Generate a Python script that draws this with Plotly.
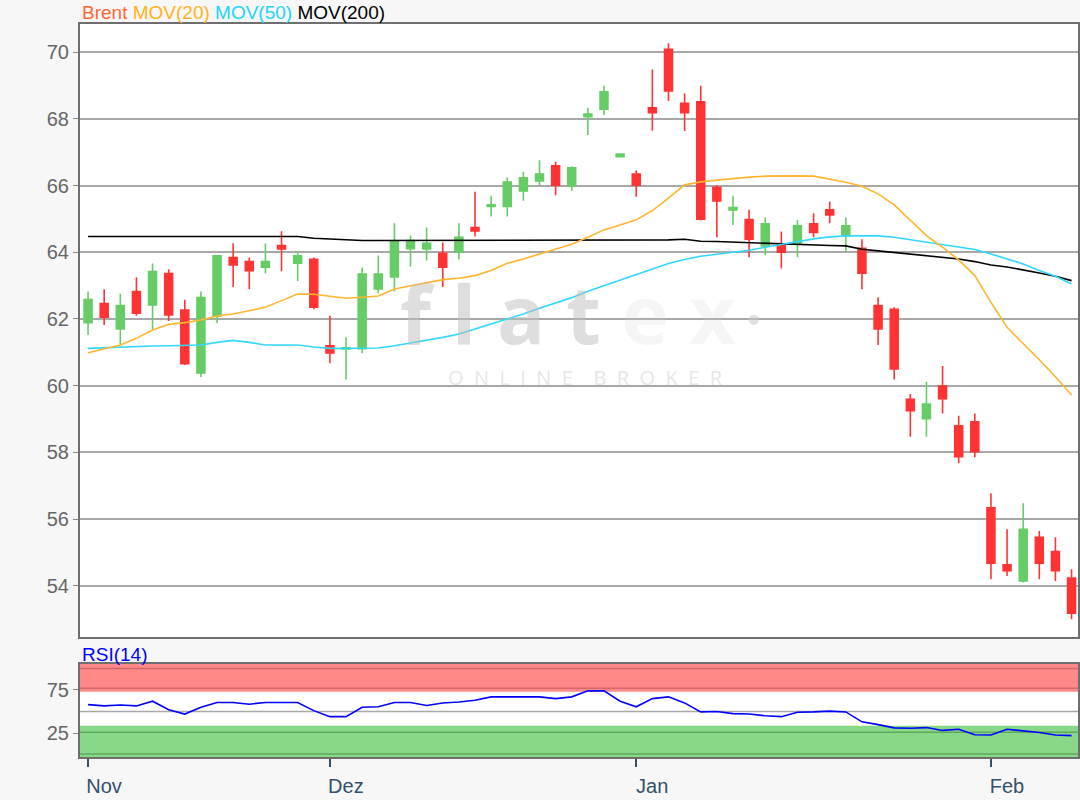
import plotly.graph_objects as go

# ---------------- data ----------------
opens = [61.89, 62.46, 61.70, 62.82, 62.42, 63.36, 62.27, 60.38, 62.09, 63.84,
         63.72, 63.55, 64.20, 63.67, 63.79, 61.20, 61.10, 61.11, 62.90, 63.26,
         64.11, 64.10, 63.97, 64.00, 64.74, 65.37, 65.37, 65.84, 66.14, 66.59,
         65.99, 68.06, 68.29, 66.86, 66.34, 68.33, 70.08, 68.46, 68.51, 65.95,
         65.27, 64.98, 64.19, 64.24, 64.24, 64.85, 65.27, 64.50, 64.12, 62.40,
         62.29, 59.59, 59.01, 59.99, 58.80, 58.92, 56.34, 54.63, 54.15, 55.46,
         55.03, 54.24]
highs = [62.82, 62.89, 62.76, 63.25, 63.66, 63.49, 62.58, 62.82, 63.89, 64.27,
         63.84, 64.26, 64.63, 64.02, 63.84, 62.10, 61.45, 63.54, 63.90, 64.87,
         64.50, 64.74, 64.29, 64.87, 65.81, 65.69, 66.24, 66.41, 66.76, 66.71,
         66.58, 68.33, 68.99, 66.95, 66.46, 69.48, 70.26, 68.76, 68.99, 66.01,
         65.69, 65.27, 65.04, 64.62, 64.97, 65.17, 65.52, 65.04, 64.39, 62.65,
         62.35, 59.75, 60.12, 60.59, 59.10, 59.17, 56.78, 55.70, 56.48, 55.65,
         55.46, 54.50]
lows = [61.52, 61.82, 61.20, 62.10, 61.67, 61.94, 60.62, 60.26, 61.87, 62.96,
        62.89, 63.37, 63.43, 63.14, 62.29, 60.67, 60.19, 60.97, 62.77, 62.82,
        63.57, 63.75, 62.96, 63.79, 64.47, 65.07, 65.07, 65.54, 66.01, 65.71,
        65.84, 67.51, 68.11, 66.85, 65.66, 67.64, 68.53, 67.63, 64.95, 64.45,
        64.82, 63.85, 63.92, 63.51, 63.85, 64.45, 64.87, 64.04, 62.89, 61.22,
        60.19, 58.47, 58.47, 59.17, 57.68, 57.86, 54.20, 54.30, 54.10, 54.20,
        54.15, 53.00]
closes = [62.58, 62.05, 62.40, 62.17, 63.42, 62.12, 60.66, 62.64, 63.89, 63.62,
          63.45, 63.72, 64.10, 63.89, 62.35, 60.98, 61.14, 63.35, 63.35, 64.34,
          64.35, 64.27, 63.55, 64.45, 64.64, 65.42, 66.10, 66.23, 66.34, 66.01,
          66.53, 68.14, 68.81, 66.94, 66.01, 68.18, 68.83, 68.18, 64.99, 65.54,
          65.34, 64.39, 64.85, 64.00, 64.79, 64.59, 65.12, 64.79, 63.37, 61.70,
          60.50, 59.25, 59.45, 59.61, 57.87, 58.02, 54.68, 54.46, 55.70, 54.68,
          54.46, 53.18]

mov20 = [60.99, 61.10, 61.22, 61.42, 61.67, 61.84, 61.89, 61.97, 62.09, 62.15,
         62.24, 62.35, 62.55, 62.75, 62.74, 62.67, 62.62, 62.65, 62.69, 62.90,
         63.00, 63.10, 63.18, 63.22, 63.30, 63.45, 63.67, 63.80, 63.95, 64.10,
         64.24, 64.45, 64.67, 64.82, 64.97, 65.25, 65.62, 66.02, 66.11, 66.16,
         66.21, 66.25, 66.28, 66.29, 66.29, 66.28, 66.20, 66.10, 65.98, 65.75,
         65.42, 64.95, 64.50, 64.15, 63.77, 63.30, 62.50, 61.75, 61.27, 60.78,
         60.27, 59.72]
mov50 = [61.12, 61.14, 61.17, 61.18, 61.19, 61.20, 61.20, 61.22, 61.30, 61.36,
         61.30, 61.22, 61.22, 61.22, 61.16, 61.12, 61.12, 61.12, 61.13, 61.20,
         61.28, 61.36, 61.45, 61.55, 61.70, 61.84, 61.98, 62.15, 62.32, 62.48,
         62.64, 62.83, 63.00, 63.17, 63.33, 63.50, 63.66, 63.78, 63.88, 63.94,
         63.99, 64.06, 64.15, 64.24, 64.32, 64.40, 64.46, 64.49, 64.49, 64.49,
         64.45, 64.38, 64.30, 64.23, 64.15, 64.08, 63.95, 63.80, 63.65, 63.45,
         63.28, 63.05]
mov200 = [64.47, 64.47, 64.47, 64.47, 64.47, 64.47, 64.47, 64.47, 64.47, 64.47,
          64.47, 64.47, 64.47, 64.47, 64.42, 64.39, 64.37, 64.35, 64.35, 64.35,
          64.35, 64.35, 64.35, 64.35, 64.35, 64.35, 64.35, 64.35, 64.35, 64.35,
          64.35, 64.35, 64.35, 64.35, 64.35, 64.35, 64.37, 64.39, 64.33, 64.32,
          64.30, 64.28, 64.26, 64.25, 64.23, 64.21, 64.20, 64.19, 64.09, 64.04,
          63.99, 63.94, 63.90, 63.86, 63.80, 63.72, 63.62, 63.56, 63.48, 63.38,
          63.28, 63.15]
rsi14 = [58, 56.5, 57.5, 56.5, 62, 52, 47, 55, 60.5, 60.5,
         58.5, 60.5, 60.5, 60.5, 51, 44, 44, 55, 55.5, 60.5,
         60.5, 57, 59.9, 61, 63, 67, 67, 67, 67, 65,
         67, 74, 74, 62, 55.5, 65, 67, 60, 49.5, 50,
         47.5, 47, 45, 44, 49.2, 49.5, 50.4, 49.5, 38, 34.7,
         31, 30.5, 31.3, 28, 29.4, 23, 22.6, 29.4, 27.4, 25.5,
         22.6, 22]

month_tick_idx = [0, 15, 34, 56]
month_labels = ["Nov", "Dez", "Jan", "Feb"]
price_ticks = [54, 56, 58, 60, 62, 64, 66, 68, 70]
rsi_ticks = [25, 75]

xs = list(range(len(closes)))

GREEN = "#66cc66"
RED = "#ff3333"
FONT = "Liberation Sans, Arial, sans-serif"

fig = go.Figure()

fig.add_trace(go.Candlestick(
    x=xs, open=opens, high=highs, low=lows, close=closes,
    increasing=dict(line=dict(color=GREEN, width=1.6), fillcolor=GREEN),
    decreasing=dict(line=dict(color=RED, width=1.6), fillcolor=RED),
    xaxis="x", yaxis="y", showlegend=False, name="Brent"))

fig.add_trace(go.Scatter(x=xs, y=mov200, mode="lines", line=dict(color="#000000", width=1.6),
                         xaxis="x", yaxis="y", showlegend=False, name="MOV(200)"))
fig.add_trace(go.Scatter(x=xs, y=mov50, mode="lines", line=dict(color="#33d6ff", width=1.6),
                         xaxis="x", yaxis="y", showlegend=False, name="MOV(50)"))
fig.add_trace(go.Scatter(x=xs, y=mov20, mode="lines", line=dict(color="#ffb52e", width=1.6),
                         xaxis="x", yaxis="y", showlegend=False, name="MOV(20)"))

fig.add_trace(go.Scatter(x=xs, y=rsi14, mode="lines", line=dict(color="#0000ff", width=1.6),
                         xaxis="x2", yaxis="y2", showlegend=False, name="RSI(14)"))

XR = [-0.5, 61.4]
XDOM = [80 / 1080, 1078 / 1080]

shapes = [
    # RSI overbought / oversold bands
    dict(type="rect", xref="x2 domain", yref="y2", x0=0, x1=1, y0=73, y1=106,
         fillcolor="#ff8888", line=dict(width=0), layer="below"),
    dict(type="rect", xref="x2 domain", yref="y2", x0=0, x1=1, y0=-4, y1=33.5,
         fillcolor="#88d888", line=dict(width=0), layer="below"),
    dict(type="line", xref="x2 domain", yref="y2", x0=0, x1=1, y0=100, y1=100,
         line=dict(color="#d06a6a", width=1.5), layer="below"),
    dict(type="line", xref="x2 domain", yref="y2", x0=0, x1=1, y0=77, y1=77,
         line=dict(color="#d06a6a", width=1.5), layer="below"),
    dict(type="line", xref="x2 domain", yref="y2", x0=0, x1=1, y0=50, y1=50,
         line=dict(color="#a8a8a8", width=1.5), layer="below"),
    dict(type="line", xref="x2 domain", yref="y2", x0=0, x1=1, y0=26, y1=26,
         line=dict(color="#5fa85f", width=1.5), layer="below"),
    dict(type="line", xref="x2 domain", yref="y2", x0=0, x1=1, y0=0.5, y1=0.5,
         line=dict(color="#5fa85f", width=1.5), layer="below"),
]

annotations = [
    dict(xref="paper", yref="paper", x=80 / 1080, y=1 - 13 / 800, xanchor="left", yanchor="middle",
         showarrow=False, font=dict(family=FONT, size=19),
         text="<span style='color:#ff6633'>Brent</span> <span style='color:#ffb31a'>MOV(20)</span> "
              "<span style='color:#22d3ff'>MOV(50)</span> <span style='color:#000000'>MOV(200)</span>"),
    dict(xref="paper", yref="paper", x=80 / 1080, y=1 - 654 / 800, xanchor="left", yanchor="middle",
         showarrow=False, font=dict(family=FONT, size=19, color="#0000ff"), text="RSI(14)"),
    # watermark
    dict(xref="paper", yref="paper", x=398 / 1080, y=1 - 312 / 800, xanchor="left", yanchor="middle",
         showarrow=False, font=dict(family="Open Sans, sans-serif", size=80, color="rgba(190,190,190,0.5)"),
         text="<b>f l a t <span style='color:rgba(205,205,205,0.4)'>e x</span></b>"),
    dict(xref="paper", yref="paper", x=753 / 1080, y=1 - 318 / 800, xanchor="center", yanchor="middle",
         showarrow=False, font=dict(family="DejaVu Sans, sans-serif", size=13, color="rgba(200,200,200,0.55)"),
         text="●"),
    dict(xref="paper", yref="paper", x=446 / 1080, y=1 - 378 / 800, xanchor="left", yanchor="middle",
         showarrow=False, font=dict(family="Open Sans, sans-serif", size=20, color="rgba(205,205,205,0.5)"),
         text="O  N  L  I  N  E    B  R  O  K  E  R"),
]

fig.update_layout(
    width=1080, height=800,
    margin=dict(l=0, r=0, t=0, b=0),
    paper_bgcolor="#f7f7f7",
    plot_bgcolor="#ffffff",
    font=dict(family=FONT, size=19, color="#666666"),
    showlegend=False,
    shapes=shapes,
    annotations=annotations,
    xaxis=dict(domain=XDOM, range=XR, anchor="y", showticklabels=False, ticks="",
               showgrid=False, zeroline=False, showline=True, mirror=True,
               linecolor="#6e6e6e", linewidth=2, rangeslider=dict(visible=False),
               fixedrange=True),
    yaxis=dict(domain=[1 - 637 / 800, 1 - 24 / 800], range=[52.47, 70.84], anchor="x",
               tickvals=price_ticks, ticks="outside", ticklen=5, tickcolor="#888888",
               tickfont=dict(family=FONT, size=20, color="#666666"),
               showgrid=True, gridcolor="#a8a8a8", gridwidth=1.5, zeroline=False,
               showline=True, mirror=True, linecolor="#6e6e6e", linewidth=2),
    xaxis2=dict(domain=XDOM, range=XR, anchor="y2", tickvals=month_tick_idx, ticktext=month_labels,
                ticks="outside", ticklen=8, tickcolor="#34506a", tickwidth=1.5,
                tickfont=dict(family=FONT, size=20, color="#34506a"),
                ticklabelshift=16, ticklabelstandoff=2,
                showgrid=False, zeroline=False, showline=True, mirror=True,
                linecolor="#6e6e6e", linewidth=2),
    yaxis2=dict(domain=[1 - 757 / 800, 1 - 664 / 800], range=[-2.9, 105.2], anchor="x2",
                tickvals=rsi_ticks, ticks="outside", ticklen=5, tickcolor="#888888",
                tickfont=dict(family=FONT, size=20, color="#666666"),
                showgrid=False, zeroline=False, showline=True, mirror=True,
                linecolor="#6e6e6e", linewidth=2),
)

fig.write_html("out.html", config={"displayModeBar": False},
               post_script="document.body.style.margin='0px';document.body.style.overflow='hidden';")
